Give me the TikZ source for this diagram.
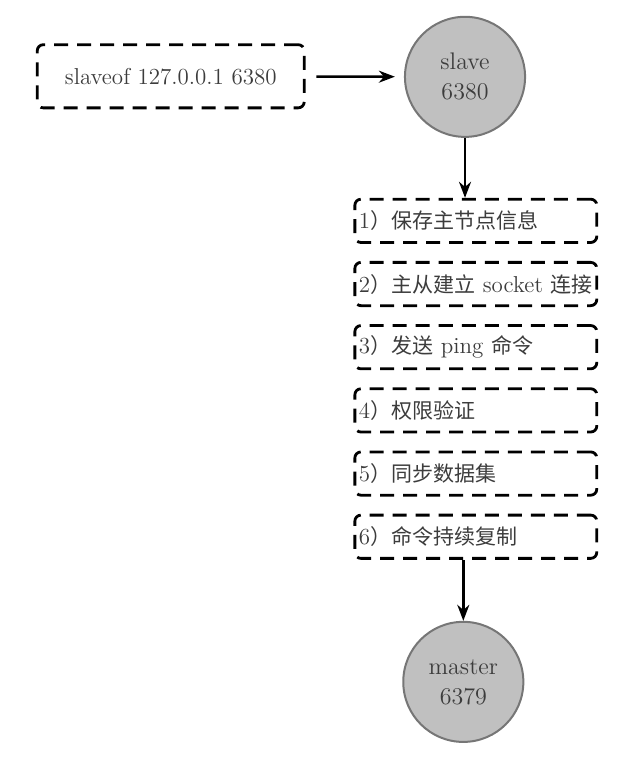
\documentclass[tikz,border=0pt]{standalone}
\usepackage{fontspec}
\newfontfamily\cjkfont{Noto Sans CJK SC}
\usepackage{tikz}
\usetikzlibrary{arrows.meta}
\definecolor{nodegray}{RGB}{192,192,192}
\definecolor{rimgray}{RGB}{118,118,118}
\definecolor{inkgray}{RGB}{60,60,60}
\tikzset{>={Stealth[length=8pt,width=6pt]}}
\tikzset{%
    cmdbox/.style={%
        draw, line width=1.4pt, dash pattern=on 7pt off 4.5pt, rounded corners=3pt,
        minimum width=4.69cm, minimum height=1.11cm, text=inkgray,
        font=\fontsize{11.5}{13}\selectfont
    },
    stepbox/.style={%
        draw, line width=1.4pt, dash pattern=on 7pt off 4.5pt, rounded corners=3pt,
        text width=4.11cm, inner xsep=0.07cm, minimum height=0.76cm, align=left,
        text=inkgray, font=\fontsize{11.5}{13}\selectfont
    },
    redis/.style={%
        circle, draw=rimgray, line width=1pt, fill=nodegray, minimum size=2.11cm,
        align=center, text=inkgray, font=\fontsize{12}{15}\selectfont
    },
    flow/.style={->, line width=1.3pt}
}
\newcommand{\zh}[1]{{\cjkfont\fontsize{10.5}{13}\selectfont #1}}

\begin{document}
\begin{tikzpicture}
\useasboundingbox (0,0) rectangle (11.11,-13.30);

\node[cmdbox] (cmd) at (3.00,-1.34) {slaveof 127.0.0.1 6380};
\node[redis] (slave) at (8.17,-1.35) {slave\\6380};

\node[stepbox] (s1) at (8.36,-3.88) {1\zh{）保存主节点信息}};
\node[stepbox] (s2) at (8.36,-4.99) {2\zh{）主从建立} socket \zh{连接}};
\node[stepbox] (s3) at (8.36,-6.10) {3\zh{）发送} ping \zh{命令}};
\node[stepbox] (s4) at (8.36,-7.21) {4\zh{）权限验证}};
\node[stepbox] (s5) at (8.36,-8.32) {5\zh{）同步数据集}};
\node[stepbox] (s6) at (8.36,-9.43) {6\zh{）命令持续复制}};

\node[redis] (master) at (8.14,-11.98) {master\\6379};

\draw[flow,shorten <=0.19cm,shorten >=0.16cm] (cmd) -- (slave);
\draw[flow] (slave) -- (slave |- s1.north);
\draw[flow] (s6.south -| master) -- (master);
\end{tikzpicture}
\end{document}
